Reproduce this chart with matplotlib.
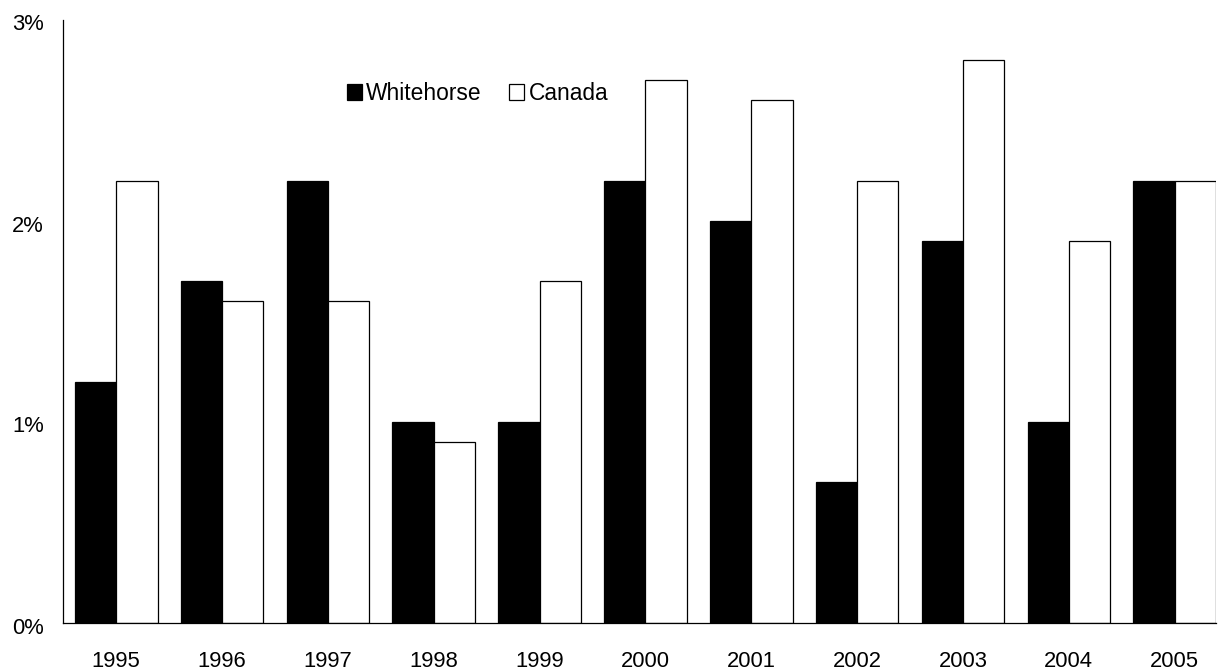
import matplotlib
matplotlib.use("Agg")
import matplotlib.pyplot as plt
import matplotlib.transforms as mtransforms
import numpy as np
from matplotlib.ticker import FuncFormatter

plt.rcParams['font.family'] = ['Liberation Sans', 'DejaVu Sans']

years = ["1995", "1996", "1997", "1998", "1999", "2000", "2001", "2002", "2003", "2004", "2005"]
whitehorse = [1.2, 1.7, 2.2, 1.0, 1.0, 2.2, 2.0, 0.7, 1.9, 1.0, 2.2]
canada = [2.2, 1.6, 1.6, 0.9, 1.7, 2.7, 2.6, 2.2, 2.8, 1.9, 2.2]
yticks = [0, 1, 2, 3]

W, H = 1225, 672
fig = plt.figure(figsize=(W / 100, H / 100), dpi=100)
ax = fig.add_axes([63.3 / W, 1 - 623 / H, (1216 - 63.3) / W, (623 - 20) / H])

x = np.arange(len(years))
w = 0.39
ax.bar(x - w / 2, whitehorse, width=w, color='black', edgecolor='black', linewidth=0.9, label='Whitehorse')
ax.bar(x + w / 2, canada, width=w, color='white', edgecolor='black', linewidth=0.9, label='Canada')

ax.set_xlim(-0.5, 10 + w)
ax.set_ylim(0, 3)
ax.set_xticks(x)
ax.set_xticklabels(years)
ax.set_yticks(yticks)
ax.yaxis.set_major_formatter(FuncFormatter(lambda v, p: f"{int(v)}%"))
ax.tick_params(axis='both', length=0, labelsize=15.8, colors='black')
ax.tick_params(axis='x', pad=20)
ax.tick_params(axis='y', pad=14)
off = mtransforms.ScaledTranslation(0, -2.5 / 100, fig.dpi_scale_trans)
for lbl in ax.get_yticklabels():
    lbl.set_transform(lbl.get_transform() + off)
for s in ['top', 'right']:
    ax.spines[s].set_visible(False)
for s in ['left', 'bottom']:
    ax.spines[s].set_color('black')
    ax.spines[s].set_linewidth(0.9)

leg = ax.legend(loc='center left', bbox_to_anchor=(346.7 / W, 1 - 93.5 / H),
                bbox_transform=fig.transFigure, ncol=2, frameon=False,
                fontsize=16.4, handlelength=0.66, handleheight=0.66,
                handletextpad=0.2, columnspacing=1.18, borderpad=0, borderaxespad=0)

fig.savefig("out.png", dpi=100)
